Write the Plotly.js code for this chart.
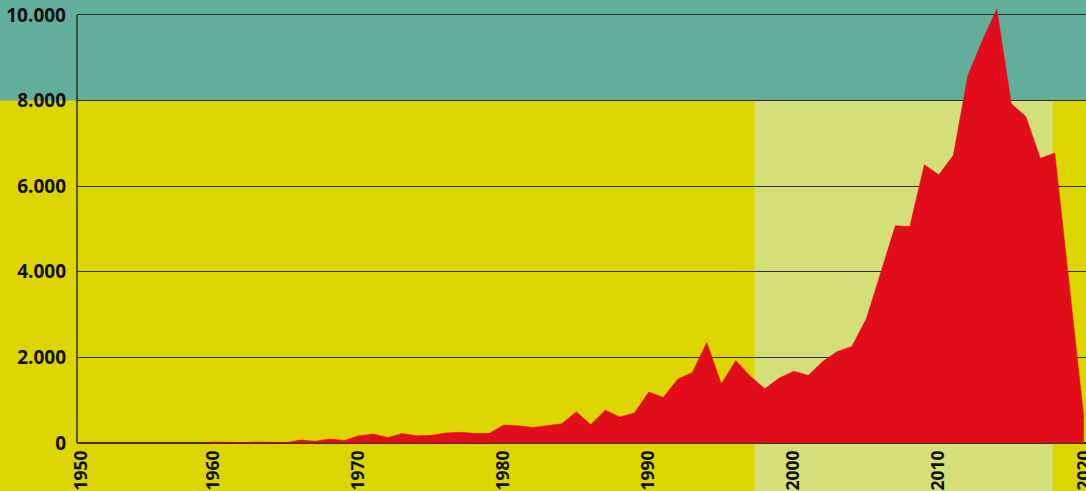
<!DOCTYPE html>
<html>
<head>
<meta charset="utf-8">
<script src="https://cdn.plot.ly/plotly-3.0.1.min.js"></script>
<style>
  html, body { margin: 0; padding: 0; background: #dcd500; }
  #chart { width: 1086px; height: 491px; }
</style>
</head>
<body>
<div id="chart"></div>
<script>
// ---- data ----
const years = [
  1950, 1951, 1952, 1953, 1954, 1955, 1956, 1957, 1958, 1959,
  1960, 1961, 1962, 1963, 1964, 1965, 1966, 1967, 1968, 1969,
  1970, 1971, 1972, 1973, 1974, 1975, 1976, 1977, 1978, 1979,
  1980, 1981, 1982, 1983, 1984, 1985, 1986, 1987, 1988, 1989,
  1990, 1991, 1992, 1993, 1994, 1995, 1996, 1997, 1998, 1999,
  2000, 2001, 2002, 2003, 2004, 2005, 2006, 2007, 2008, 2009,
  2010, 2011, 2012, 2013, 2014, 2015, 2016, 2017, 2018, 2019,
  2020
];
const values = [
  0, 0, 0, 0, 0, 0, 0, 0, 0, 0,
  25, 20, 10, 25, 10, 10, 70, 40, 95, 60,
  170, 210, 130, 220, 170, 180, 235, 250, 225, 225,
  420, 405, 365, 410, 450, 730, 430, 765, 610, 700,
  1190, 1065, 1495, 1650, 2350, 1380, 1925, 1560, 1270, 1520,
  1675, 1580, 1905, 2140, 2255, 2900, 3970, 5075, 5060, 6500,
  6270, 6720, 8580, 9405, 10140, 7925, 7630, 6655, 6775, 3690,
  600
];
const xTickYears  = [1950, 1960, 1970, 1980, 1990, 2000, 2010, 2020];
const xTickLabels = ['1950', '1960', '1970', '1980', '1990', '2000', '2010', '2020'];
const yTickValues = [0, 2000, 4000, 6000, 8000, 10000];
const yTickLabels = ['0', '2.000', '4.000', '6.000', '8.000', '10.000'];
// highlighted period (light band) and upper zone threshold
const bandStart = 1997.3;
const bandEnd = 2017.86;
const upperZoneFrom = 8000;

// ---- style ----
const YELLOW = '#dcd500';
const LIGHT = '#d4df7a';
const TEAL = '#63ae9a';
const RED = '#e20d1b';
const DARK = '#2f2f28';
const xRange = [1950.57, 2020.15];
const yRange = [0, 10350];
const YFONT = { family: '"Open Sans", "Noto Sans", sans-serif', size: 19, color: '#111', weight: 700 };
const XFONT = { family: '"Open Sans", "Noto Sans", sans-serif', size: 17.5, color: '#111', weight: 700 };

const tickvals = xTickYears.map(y => Math.max(y, xRange[0] + 0.33));

const trace = {
  type: 'scatter',
  mode: 'lines',
  x: years,
  y: values,
  fill: 'tozeroy',
  fillcolor: RED,
  line: { color: RED, width: 0.5 },
  hoverinfo: 'skip'
};

const layout = {
  width: 1086,
  height: 491,
  margin: { l: 77, r: 0, t: 0, b: 48, pad: 0 },
  paper_bgcolor: YELLOW,
  plot_bgcolor: 'rgba(0,0,0,0)',
  showlegend: false,
  font: YFONT,
  xaxis: {
    range: xRange,
    showgrid: false,
    zeroline: false,
    showline: false,
    ticks: '',
    tickmode: 'array',
    tickvals: tickvals,
    ticktext: xTickLabels,
    tickangle: -90,
    ticklabelstandoff: 3,
    ticklabeloverflow: 'allow',
    tickfont: XFONT,
    fixedrange: true
  },
  yaxis: {
    range: yRange,
    showgrid: true,
    gridcolor: DARK,
    gridwidth: 1,
    zeroline: true,
    zerolinecolor: DARK,
    zerolinewidth: 1.5,
    showline: false,
    ticks: '',
    tickmode: 'array',
    tickvals: yTickValues,
    ticktext: yTickLabels,
    ticklabelstandoff: 10,
    ticklabeloverflow: 'allow',
    tickfont: YFONT,
    fixedrange: true
  },
  shapes: [
    { type: 'rect', layer: 'below', xref: 'x', yref: 'paper',
      x0: bandStart, x1: bandEnd, y0: -0.3, y1: 1,
      fillcolor: LIGHT, line: { width: 0 } },
    { type: 'rect', layer: 'below', xref: 'paper', yref: 'y',
      x0: -0.2, x1: 1.1, y0: upperZoneFrom, y1: yRange[1] * 1.5,
      fillcolor: TEAL, line: { width: 0 } },
    { type: 'line', layer: 'below', xref: 'paper', yref: 'y',
      x0: 0, x1: 0, y0: 0, y1: 10000,
      line: { color: DARK, width: 1.5 } }
  ]
};

Plotly.newPlot('chart', [trace], layout, { displayModeBar: false, staticPlot: true });
</script>
</body>
</html>
